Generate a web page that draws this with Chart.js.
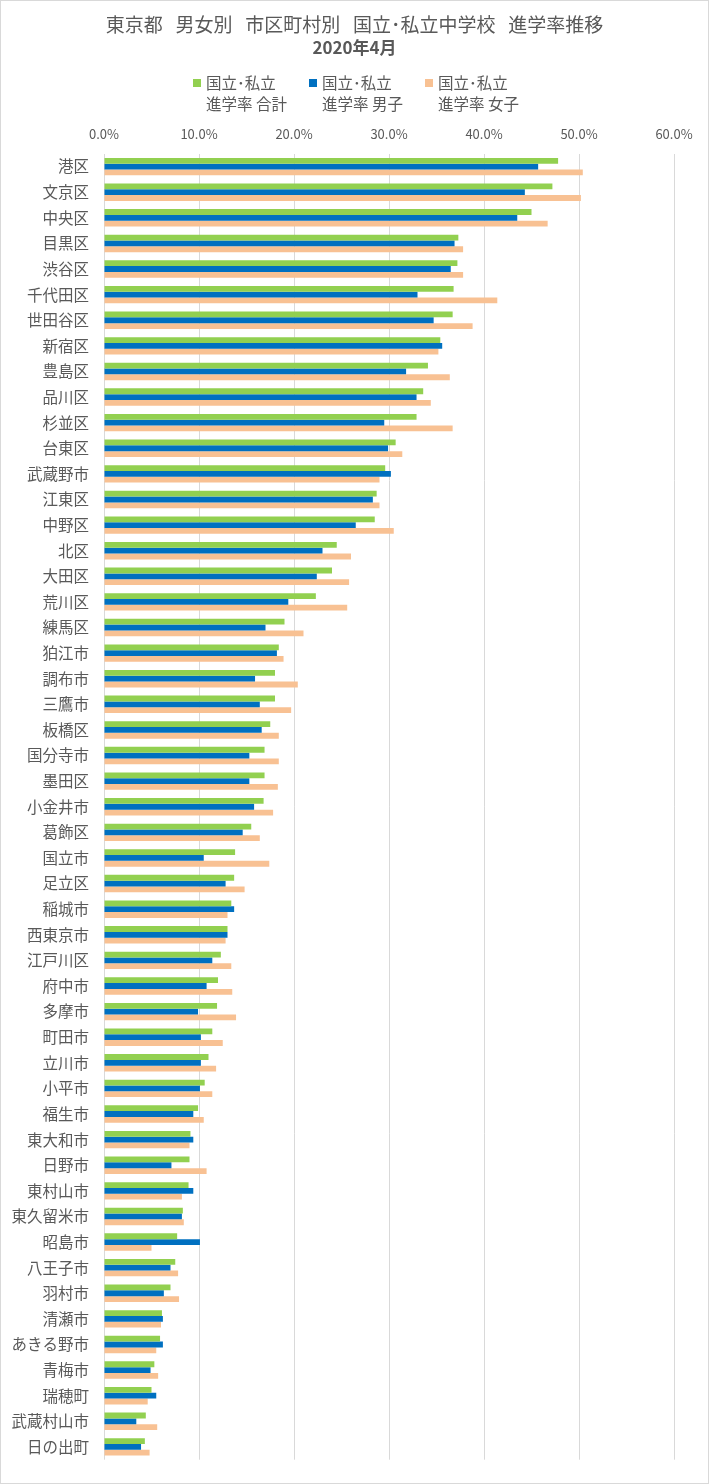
<!DOCTYPE html>
<html>
<head>
<meta charset="utf-8">
<script src="https://cdn.jsdelivr.net/npm/chart.js@4"></script>
<style>
  body { margin: 0; background: #fff; }
  #wrap { position: relative; width: 709px; height: 1484px; font-family: "Noto Sans CJK JP", sans-serif; }
  #frame { position: absolute; left: 0; top: 0; width: 707px; height: 1482px; border: 1px solid #D9D9D9; pointer-events: none; }
  .item { position: absolute; top: 72px; color: #595959; font-size: 15.5px; line-height: 21px; white-space: nowrap; }
  .mark { position: absolute; left: -13px; top: 7px; width: 8px; height: 8px; }
</style>
</head>
<body>
<div id="wrap">
  <canvas id="chart" width="709" height="1484"></canvas>
  <div id="legend"></div>
  <div id="frame"></div>
</div>
<script>
var categories = ['港区','文京区','中央区','目黒区','渋谷区','千代田区','世田谷区','新宿区','豊島区','品川区',
  '杉並区','台東区','武蔵野市','江東区','中野区','北区','大田区','荒川区','練馬区','狛江市',
  '調布市','三鷹市','板橋区','国分寺市','墨田区','小金井市','葛飾区','国立市','足立区','稲城市',
  '西東京市','江戸川区','府中市','多摩市','町田市','立川市','小平市','福生市','東大和市','日野市',
  '東村山市','東久留米市','昭島市','八王子市','羽村市','清瀬市','あきる野市','青梅市','瑞穂町','武蔵村山市','日の出町'];

var total = [47.8, 47.2, 45.0, 37.3, 37.2, 36.8, 36.7, 35.4, 34.1, 33.6,
  32.9, 30.7, 29.6, 28.7, 28.5, 24.5, 24.0, 22.3, 19.0, 18.4,
  18.0, 18.0, 17.5, 16.9, 16.9, 16.8, 15.5, 13.8, 13.7, 13.4,
  13.0, 12.3, 12.0, 11.9, 11.4, 11.0, 10.6, 9.9, 9.1, 9.0,
  8.9, 8.3, 7.7, 7.5, 7.0, 6.1, 5.9, 5.3, 5.0, 4.4, 4.3];

var boys = [45.7, 44.3, 43.5, 36.9, 36.5, 33.0, 34.7, 35.6, 31.8, 32.9,
  29.5, 29.9, 30.2, 28.3, 26.5, 23.0, 22.4, 19.4, 17.0, 18.2,
  15.9, 16.4, 16.6, 15.3, 15.3, 15.8, 14.6, 10.5, 12.8, 13.7,
  13.0, 11.4, 10.8, 9.9, 10.2, 10.2, 10.1, 9.4, 9.4, 7.1,
  9.4, 8.2, 10.1, 7.0, 6.3, 6.2, 6.2, 4.9, 5.5, 3.4, 3.9];

var girls = [50.4, 50.2, 46.7, 37.8, 37.8, 41.4, 38.8, 35.2, 36.4, 34.4,
  36.7, 31.4, 29.0, 29.0, 30.5, 26.0, 25.8, 25.6, 21.0, 18.9,
  20.4, 19.7, 18.4, 18.4, 18.3, 17.8, 16.4, 17.4, 14.8, 13.0,
  12.8, 13.4, 13.5, 13.9, 12.5, 11.8, 11.4, 10.5, 9.0, 10.8,
  8.2, 8.4, 5.0, 7.8, 7.9, 6.0, 5.5, 5.7, 4.6, 5.6, 4.8];

var seriesNames = [['国立･私立', '進学率 合計'], ['国立･私立', '進学率 男子'], ['国立･私立', '進学率 女子']];
var colors = ['#92D050', '#0070C0', '#F8C193'];
var legendX = [206, 322, 438];

var font = '"Noto Sans CJK JP", sans-serif';
var grey = '#595959';

// legend as html, two lines per entry
var lg = document.getElementById('legend');
seriesNames.forEach(function (n, i) {
  var d = document.createElement('div');
  d.className = 'item';
  d.style.left = legendX[i] + 'px';
  d.innerHTML = '<span class="mark" style="background:' + colors[i] + '"></span>' + n[0] + '<br>' + n[1];
  lg.appendChild(d);
});

var chart = new Chart('chart', {
  type: 'bar',
  data: {
    labels: categories,
    datasets: [
      { label: seriesNames[0].join(' '), data: total, backgroundColor: colors[0] },
      { label: seriesNames[1].join(' '), data: boys, backgroundColor: colors[1] },
      { label: seriesNames[2].join(' '), data: girls, backgroundColor: colors[2] }
    ]
  },
  options: {
    indexAxis: 'y',
    responsive: false,
    animation: false,
    datasets: { bar: { categoryPercentage: 0.68, barPercentage: 1.0 } },
    layout: { padding: { left: 0, right: 0, top: 0, bottom: 19 } },
    plugins: {
      legend: { display: false },
      tooltip: { enabled: false },
      title: {
        display: true,
        text: '東京都   男女別   市区町村別   国立･私立中学校   進学率推移',
        color: grey,
        font: { family: font, size: 19, weight: 'normal' },
        padding: { top: 13, bottom: 2 }
      },
      subtitle: {
        display: true,
        text: '2020年4月',
        color: grey,
        font: { family: font, size: 17, weight: 'bold' },
        padding: { top: 0, bottom: 56 }
      }
    },
    scales: {
      x: {
        position: 'top',
        min: 0,
        max: 60,
        ticks: {
          stepSize: 10,
          color: grey,
          padding: 12,
          font: { family: font, size: 13 },
          callback: function (v) { return v.toFixed(1) + '%'; }
        },
        grid: { color: '#D9D9D9', drawTicks: false },
        border: { display: false }
      },
      y: {
        ticks: {
          color: grey,
          padding: 15,
          autoSkip: false,
          font: { family: font, size: 15.5 }
        },
        grid: { display: false, drawTicks: false },
        border: { display: false },
        afterFit: function (s) { s.width = 104; }
      },
      // empty right-hand spacer so the titles stay centred on the page
      spacer: {
        type: 'linear',
        position: 'right',
        axis: 'y',
        ticks: { display: false },
        grid: { display: false, drawTicks: false },
        border: { display: false },
        afterFit: function (s) { s.width = 35; }
      }
    }
  }
});
</script>
</body>
</html>
